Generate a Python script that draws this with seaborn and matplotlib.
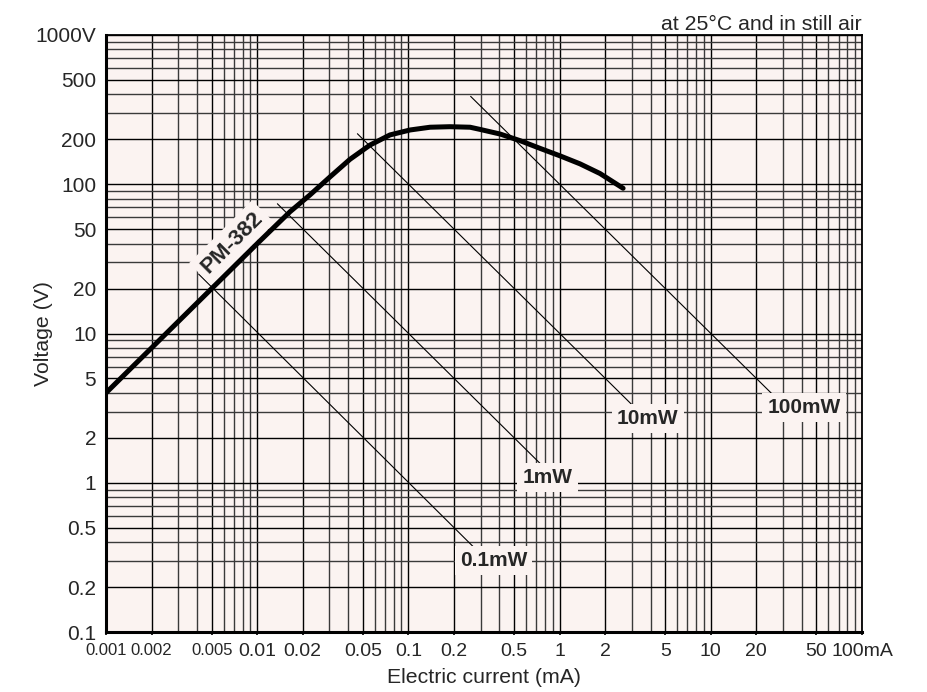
import pandas as pd
import numpy as np
import seaborn as sns
from matplotlib import pyplot as plt
from matplotlib.ticker import LogLocator, NullFormatter

# PM-382 characteristic
current_ma = [0.001, 0.005, 0.01, 0.0165, 0.0223, 0.0303, 0.0411, 0.0557, 0.0755,
              0.1025, 0.139, 0.188, 0.256, 0.298, 0.404, 0.547, 0.742, 1.006,
              1.364, 1.85, 2.63]
voltage_v = [4.0, 20, 40, 65.5, 84.7, 112, 147, 183, 214,
             231, 241, 243, 241, 233, 217, 196, 174, 155,
             137, 118, 94]

# constant power lines (start / end points)
power_labels = ['0.1mW', '1mW', '10mW', '100mW']
power_i_start = [0.0041, 0.0136, 0.046, 0.258]
power_v_start = [25, 74, 218, 388]
power_i_end = [0.29, 0.77, 3.4, 26]
power_v_end = [0.345, 1.3, 2.95, 3.85]
label_i = [0.366, 0.834, 3.83, 41.3]
label_v = [0.30, 1.08, 2.69, 3.18]

x_ticks = [0.001, 0.002, 0.005, 0.01, 0.02, 0.05, 0.1, 0.2, 0.5, 1, 2, 5, 10, 20, 50, 100]
x_labels = ['0.001', '0.002', '0.005', '0.01', '0.02', '0.05', '0.1', '0.2', '0.5',
            '1', '2', '5', '10', '20', '50', '100mA']
y_ticks = [0.1, 0.2, 0.5, 1, 2, 5, 10, 20, 50, 100, 200, 500, 1000]
y_labels = ['0.1', '0.2', '0.5', '1', '2', '5', '10', '20', '50', '100', '200', '500', '1000V']

bg = '#fbf3f1'

sns.set_theme(style='white')
plt.rcParams['font.family'] = ['Liberation Sans', 'DejaVu Sans']

fig = plt.figure(figsize=(9.28, 6.92), dpi=100)
ax = fig.add_axes([106 / 928, 1 - 632 / 692, 756 / 928, 597 / 692])
ax.set_facecolor(bg)

curve = pd.DataFrame({'I': current_ma, 'V': voltage_v})
lines = pd.DataFrame({
    'I': power_i_start + power_i_end,
    'V': power_v_start + power_v_end,
    'P': power_labels + power_labels,
})

sns.lineplot(data=lines, x='I', y='V', hue='P', palette=['black'] * 4,
             estimator=None, sort=False, lw=0.8, legend=False, ax=ax, zorder=3)
sns.lineplot(data=curve, x='I', y='V', color='black', lw=3.6,
             estimator=None, sort=False, ax=ax, zorder=6)
ax.lines[-1].set_solid_joinstyle('round')
ax.lines[-1].set_solid_capstyle('round')

ax.set_xscale('log')
ax.set_yscale('log')
ax.set_xlim(0.001, 100)
ax.set_ylim(0.1, 1000)

ax.xaxis.set_minor_locator(LogLocator(base=10, subs=np.arange(2, 10)))
ax.yaxis.set_minor_locator(LogLocator(base=10, subs=np.arange(2, 10)))
ax.xaxis.set_minor_formatter(NullFormatter())
ax.yaxis.set_minor_formatter(NullFormatter())
ax.set_xticks(x_ticks, x_labels)
ax.set_yticks(y_ticks, y_labels)

ax.set_axisbelow(True)
ax.grid(which='major', color='black', lw=1.0)
ax.grid(which='minor', color='#3a3a3a', lw=1.0)

ax.tick_params(axis='x', which='major', length=2, width=1.2, color='black',
               labelsize=14, pad=6, bottom=True)
ax.tick_params(axis='y', which='major', length=0, labelsize=15, pad=7)
ax.tick_params(which='minor', length=0)
for lab in ax.get_xticklabels()[:3]:
    lab.set_fontsize(12)

for side in ['left', 'bottom']:
    ax.spines[side].set_linewidth(2.2)
    ax.spines[side].set_color('black')
for side in ['top', 'right']:
    ax.spines[side].set_linewidth(1.3)
    ax.spines[side].set_color('black')

ax.set_xlabel('Electric current (mA)', fontsize=15.3)
ax.set_ylabel('Voltage (V)', fontsize=15.3)
ax.xaxis.set_label_coords(0.5, -0.060)
ax.yaxis.set_label_coords(-0.070, 0.5)

ax.text(1.0, 1.0084, 'at 25°C and in still air', transform=ax.transAxes,
        ha='right', va='baseline', fontsize=15.3)

box = dict(boxstyle='square,pad=0.25', fc=bg, ec='none')
for lab, xi, yv in zip(power_labels, label_i, label_v):
    ax.text(xi, yv, lab, ha='center', va='center', fontsize=15,
            fontweight='bold', bbox=box, zorder=5)
ax.text(0.0068, 40.4, 'PM-382', ha='center', va='center', rotation=45,
        fontsize=16, fontweight='bold', bbox=box, zorder=5)

fig.savefig('out.png', dpi=100, facecolor='white')
